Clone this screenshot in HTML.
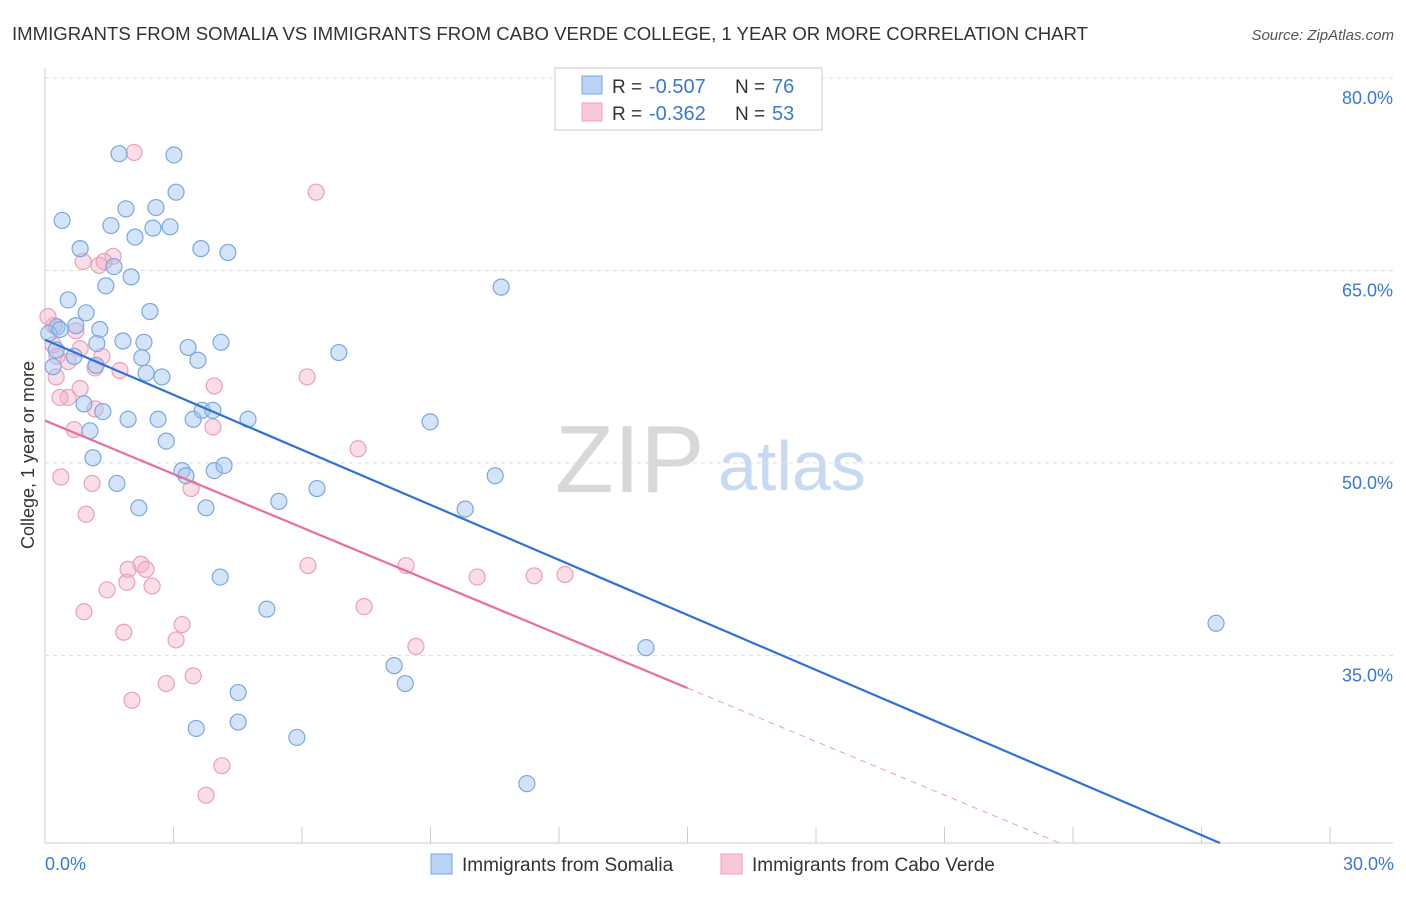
<!DOCTYPE html>
<html><head><meta charset="utf-8"><style>
body{margin:0;background:#fff;font-family:"Liberation Sans",sans-serif}
svg text{font-family:"Liberation Sans",sans-serif}
</style></head><body>
<svg width="1406" height="892">
<text x="12" y="40" font-size="18" fill="#333" textLength="1076" lengthAdjust="spacingAndGlyphs">IMMIGRANTS FROM SOMALIA VS IMMIGRANTS FROM CABO VERDE COLLEGE, 1 YEAR OR MORE CORRELATION CHART</text>
<text x="1394" y="40" font-size="15" fill="#555" font-style="italic" text-anchor="end">Source: ZipAtlas.com</text>
<text x="555" y="492" font-size="96" fill="#d8d8d8" font-family="Liberation Serif">ZIP</text>
<text x="718" y="490" font-size="70" fill="#c8daf2">atlas</text>
<g id="grid"></g><g id="axes"></g><g id="marks"></g>
<text transform="translate(34,455) rotate(-90)" font-size="18" fill="#333" text-anchor="middle">College, 1 year or more</text>
<text x="45" y="870" font-size="18" fill="#3a78d4">0.0%</text>
<text x="1394" y="870" font-size="18" fill="#3a78d4" text-anchor="end">30.0%</text>
<g>
<rect x="555" y="68" width="267" height="62" fill="#fff" stroke="#ccc"/>
<rect x="582" y="76" width="20" height="18" fill="#b8d3f5" stroke="#7aa8e0"/>
<rect x="582" y="103" width="20" height="18" fill="#f9c8d8" stroke="#eba0b8"/>
<text x="612" y="93" font-size="19" fill="#333">R =</text>
<text x="649" y="93" font-size="20" fill="#3a78d4">-0.507</text>
<text x="735" y="93" font-size="19" fill="#333">N =</text>
<text x="772" y="93" font-size="20" fill="#3a78d4">76</text>
<text x="612" y="120" font-size="19" fill="#333">R =</text>
<text x="649" y="120" font-size="20" fill="#3a78d4">-0.362</text>
<text x="735" y="120" font-size="19" fill="#333">N =</text>
<text x="772" y="120" font-size="20" fill="#3a78d4">53</text>
</g>
<g>
<rect x="431" y="854" width="21" height="20" fill="#b8d3f5" stroke="#7aa8e0"/>
<text x="462" y="871" font-size="19" fill="#333">Immigrants from Somalia</text>
<rect x="721" y="854" width="21" height="20" fill="#f9c8d8" stroke="#eba0b8"/>
<text x="752" y="871" font-size="19" fill="#333">Immigrants from Cabo Verde</text>
</g>
</svg>
<script>
const yTicks=[80,65,50,35];
const xTicks=[0,3,6,9,12,15,18,21,24,27,30];
const somaliaX=[1.73,3.01,3.06,1.89,2.59,0.40,1.54,2.52,2.92,2.10,0.82,3.64,4.27,1.61,2.01,1.42,0.54,10.65,0.96,2.45,0.28,0.72,1.28,0.09,0.35,1.82,1.21,2.31,3.34,4.11,0.26,0.68,2.26,3.57,6.86,2.36,2.73,1.19,0.19,0.91,1.35,1.94,2.64,3.46,3.67,3.92,4.74,8.99,1.05,2.83,1.12,3.20,3.29,3.95,4.18,10.51,1.68,6.35,5.46,2.19,3.76,9.81,4.09,5.18,14.03,27.34,8.15,8.41,4.51,3.53,4.51,5.88,11.25];
const somaliaY=[74.1,74.0,71.1,69.8,69.9,68.9,68.5,68.3,68.4,67.6,66.7,66.7,66.4,65.3,64.5,63.8,62.7,63.7,61.7,61.8,60.6,60.7,60.4,60.1,60.4,59.5,59.3,59.4,59.0,59.4,58.8,58.3,58.2,58.0,58.6,57.0,56.7,57.6,57.5,54.6,54.0,53.4,53.4,53.4,54.1,54.1,53.4,53.2,52.5,51.7,50.4,49.4,49.0,49.4,49.8,49.0,48.4,48.0,47.0,46.5,46.5,46.4,41.1,38.6,35.6,37.5,34.2,32.8,32.1,29.3,29.8,28.6,25.0];
const caboX=[2.08,6.33,1.59,0.89,1.26,1.38,0.07,0.21,0.72,0.19,1.33,0.28,0.54,1.75,1.17,6.12,0.26,3.95,0.82,0.54,0.35,1.17,0.68,3.92,7.31,0.37,1.10,3.41,0.96,2.24,6.14,8.43,1.94,2.36,10.09,11.42,12.14,2.50,1.91,1.45,0.91,7.45,3.20,1.84,3.06,8.66,3.46,2.83,2.03,4.13,3.76,0.82];
const caboY=[74.2,71.1,66.1,65.7,65.4,65.7,61.4,60.7,60.3,59.2,58.3,58.3,57.9,57.2,57.4,56.7,56.7,56.0,55.8,55.1,55.1,54.2,52.6,52.8,51.1,48.9,48.4,48.0,46.0,42.1,42.0,42.0,41.7,41.7,41.1,41.2,41.3,40.4,40.7,40.1,38.4,38.8,37.4,36.8,36.2,35.7,33.4,32.8,31.5,26.4,24.1,58.9];
const trendSomalia=[59.6,-1.43];
const trendCabo=[53.3,-1.39];
const NS="http://www.w3.org/2000/svg";
const X0=45,X1=1330,Y80=78,PXPER=12.83,YBOT=843;
const sx=v=>X0+(X1-X0)*v/30;
const sy=v=>Y80+(80-v)*PXPER;
function mk(t,a,p){const e=document.createElementNS(NS,t);for(const k in a)e.setAttribute(k,a[k]);p.appendChild(e);return e;}
const grid=document.getElementById('grid'),axes=document.getElementById('axes'),marks=document.getElementById('marks');
yTicks.forEach(t=>{
 const l=mk('line',{x1:X0,x2:1393,y1:sy(t),y2:sy(t),stroke:'#ddd','stroke-dasharray':'4,4'},grid);
 
 
 const tx=mk('text',{x:1393,y:sy(t)+26,'font-size':18,fill:'#3a78d4','text-anchor':'end'},grid);
 tx.textContent=t.toFixed(1)+'%';
 
 
});
const ya=mk('line',{x1:X0,x2:X0,y1:68,y2:YBOT,stroke:'#ccc'},axes);


const xa=mk('line',{x1:X0,x2:1393,y1:YBOT,y2:YBOT,stroke:'#ccc'},axes);


xTicks.forEach(t=>{
 const l=mk('line',{x1:sx(t),x2:sx(t),y1:YBOT,y2:YBOT-16,stroke:'#ccc'},axes);
 
 
});
function pts(xs,ys,fill,stroke,name){
 xs.forEach((x,i)=>{
  const c=mk('circle',{cx:sx(x),cy:sy(ys[i]),r:8,fill:fill,stroke:stroke,'stroke-width':1.2},marks);
  
  
 });
}
pts(caboX,caboY,'rgba(245,170,195,0.4)','#eba0b8','cabo-verde-point');
pts(somaliaX,somaliaY,'rgba(160,196,240,0.45)','#7aa8e0','somalia-point');
const yMin=80-(YBOT-Y80)/PXPER;
const xEndS=(yMin-trendSomalia[0])/trendSomalia[1];
const ls=mk('line',{x1:sx(0),y1:sy(trendSomalia[0]),x2:sx(xEndS),y2:sy(yMin),stroke:'#2f72d6','stroke-width':2.2},marks);


const lc=mk('line',{x1:sx(0),y1:sy(trendCabo[0]),x2:sx(15),y2:sy(trendCabo[0]+trendCabo[1]*15),stroke:'#e8709a','stroke-width':2.2},marks);


const xEndC=(yMin-trendCabo[0])/trendCabo[1];
const ld=mk('line',{x1:sx(15),y1:sy(trendCabo[0]+trendCabo[1]*15),x2:sx(xEndC),y2:sy(yMin),stroke:'#e8a0b8','stroke-width':1,'stroke-dasharray':'6,5'},marks);


</script>
</body></html>
